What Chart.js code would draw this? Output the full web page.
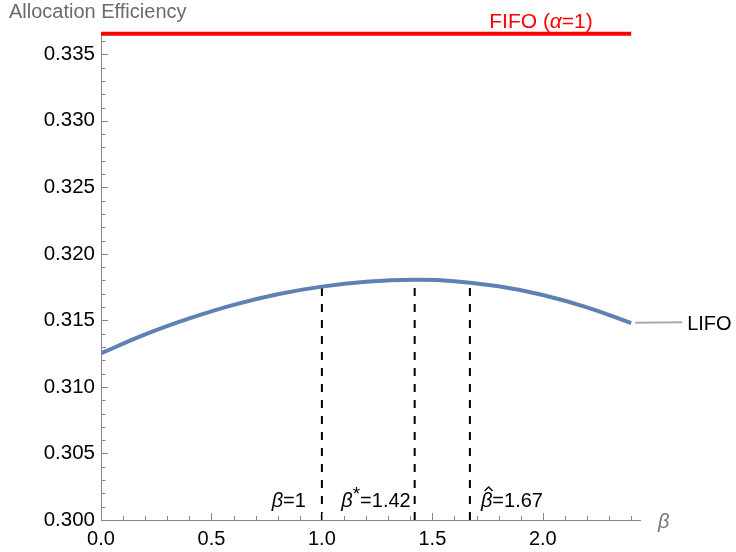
<!DOCTYPE html>
<html>
<head>
<meta charset="utf-8">
<script src="https://cdn.jsdelivr.net/npm/chart.js@4.4.1/dist/chart.umd.min.js"></script>
<style>
  body { margin: 0; background: #fff; }
  canvas { display: block; }
</style>
</head>
<body>
<canvas id="efficiency" width="736" height="552"></canvas>
<script>
// values
const betaVals = [0, 0.2, 0.4, 0.6, 0.8, 1.0, 1.2, 1.42, 1.6, 1.8, 2.0, 2.2, 2.4];
const lifoVals = [0.31253, 0.31395, 0.31515, 0.31617, 0.31697, 0.31754, 0.31790, 0.31805, 0.31795, 0.31756, 0.31691, 0.31598, 0.31479];
const fifoLevel = 0.33655;
const markerBetas = [1, 1.42, 1.67];
const markerTops = [0.31754, 0.31805, 0.31784];
const xTicks = [0, 0.5, 1.0, 1.5, 2.0];
const yTicks = [0.300, 0.305, 0.310, 0.315, 0.320, 0.325, 0.330, 0.335];

const FONT = "'Liberation Sans', Arial, sans-serif";
const ctx = document.getElementById('efficiency').getContext('2d');

// draw text made of normal / italic pieces
function drawRuns(c, runs, x, y, align, color) {
    c.save();
    c.fillStyle = color;
    c.textBaseline = 'alphabetic';
    c.textAlign = 'left';
    let total = 0;
    runs.forEach(r => {
        c.font = (r.it ? 'italic ' : '') + (r.size || 20) + 'px ' + FONT;
        r.w = c.measureText(r.t).width;
        total += r.w;
    });
    let cx = align === 'right' ? x - total : align === 'center' ? x - total / 2 : x;
    runs.forEach(r => {
        c.font = (r.it ? 'italic ' : '') + (r.size || 20) + 'px ' + FONT;
        c.fillText(r.t, cx, y + (r.dy || 0));
        r.x = cx;
        cx += r.w;
    });
    c.restore();
    return runs;
}

const extras = {
    id: 'extras',
    afterDraw(chart) {
        const c = chart.ctx;
        const xs = chart.scales.x, ys = chart.scales.y;
        const area = chart.chartArea;
        c.save();
        c.strokeStyle = '#888';
        c.lineWidth = 1;
        // y ticks inside
        for (let i = 0; i <= 36; i++) {
            const v = 0.300 + i * 0.001;
            const py = Math.round(ys.getPixelForValue(v)) + 0.5;
            const len = i % 5 === 0 ? 7 : 4.5;
            c.beginPath();
            c.moveTo(area.left, py);
            c.lineTo(area.left + len, py);
            c.stroke();
        }
        // x ticks inside
        for (let i = 0; i <= 24; i++) {
            const v = i * 0.1;
            const px = Math.round(xs.getPixelForValue(v)) + 0.5;
            const len = i % 5 === 0 ? 7 : 4;
            c.beginPath();
            c.moveTo(px, area.bottom);
            c.lineTo(px, area.bottom - len);
            c.stroke();
        }
        // leader line to LIFO label
        const endX = xs.getPixelForValue(betaVals[betaVals.length - 1]);
        const endY = ys.getPixelForValue(lifoVals[lifoVals.length - 1]);
        c.strokeStyle = '#aaa';
        c.lineWidth = 2;
        c.beginPath();
        c.moveTo(endX + 4, endY - 0.5);
        c.lineTo(endX + 51, endY - 1);
        c.stroke();
        c.restore();

        // title and labels
        c.save();
        c.font = '20px ' + FONT;
        c.fillStyle = '#6b6b6b';
        c.textBaseline = 'alphabetic';
        c.fillText('Allocation Efficiency', 9, 18);
        c.restore();

        drawRuns(c, [{t: 'FIFO (', size: 21}, {t: '\u03b1', it: true, size: 21}, {t: '=1)', size: 21}], 541, 28, 'center', '#f00');
        drawRuns(c, [{t: 'LIFO'}], endX + 56, endY + 7, 'left', '#000');
        drawRuns(c, [{t: '\u03b2', it: true}], 658, 528, 'left', '#777');

        const base = 507;
        drawRuns(c, [{t: '\u03b2', it: true}, {t: '=1'}], xs.getPixelForValue(markerBetas[0]) - 16, base, 'right', '#000');
        drawRuns(c, [{t: '\u03b2', it: true}, {t: '*', size: 19, dy: -7}, {t: '=1.42'}], xs.getPixelForValue(markerBetas[1]) - 4, base, 'right', '#000');
        const hat = drawRuns(c, [{t: '\u03b2', it: true}, {t: '=1.67'}], xs.getPixelForValue(markerBetas[2]) + 11, base, 'left', '#000');
        // hat over beta
        const hx = hat[0].x + hat[0].w / 2 + 2;
        c.save();
        c.strokeStyle = '#000';
        c.lineWidth = 1.3;
        c.beginPath();
        c.moveTo(hx - 4, base - 16);
        c.lineTo(hx, base - 20);
        c.lineTo(hx + 4, base - 16);
        c.stroke();
        c.restore();
    }
};

const markerSets = markerBetas.map((b, i) => ({
    data: [{x: b, y: 0.300}, {x: b, y: markerTops[i]}],
    showLine: true,
    borderColor: '#000',
    borderWidth: 2,
    borderDash: [8, 8],
    pointRadius: 0,
    order: 2
}));

const chart = new Chart(ctx, {
    type: 'scatter',
    data: {
        datasets: [
            {
                data: betaVals.map((b, i) => ({x: b, y: lifoVals[i]})),
                showLine: true,
                borderColor: '#5e81b5',
                borderWidth: 4,
                tension: 0.4,
                pointRadius: 0,
                order: 1
            },
            {
                data: [{x: 0, y: fifoLevel}, {x: 2.4, y: fifoLevel}],
                showLine: true,
                borderColor: '#f00',
                borderWidth: 4,
                pointRadius: 0,
                clip: false,
                order: 1
            },
            ...markerSets
        ]
    },
    options: {
        responsive: false,
        animation: false,
        layout: { padding: { top: 33, right: 96, left: 0, bottom: 0 } },
        plugins: { legend: { display: false }, tooltip: { enabled: false } },
        scales: {
            x: {
                type: 'linear',
                min: 0,
                max: 2.44,
                grid: { display: false, drawTicks: false },
                border: { display: true, color: '#888', width: 1 },
                ticks: {
                    font: { family: FONT, size: 20 },
                    color: '#000',
                    padding: 7,
                    maxRotation: 0,
                    autoSkip: false,
                    callback: v => v.toFixed(1)
                },
                afterBuildTicks: s => { s.ticks = xTicks.map(v => ({value: v})); },
                afterFit: s => { s.height = 32; }
            },
            y: {
                type: 'linear',
                min: 0.300,
                max: 0.3366,
                grid: { display: false, drawTicks: false },
                border: { display: true, color: '#888', width: 1 },
                ticks: {
                    font: { family: FONT, size: 20.5 },
                    color: '#000',
                    padding: 6,
                    autoSkip: false,
                    callback: v => v.toFixed(3)
                },
                afterBuildTicks: s => { s.ticks = yTicks.map(v => ({value: v})); },
                afterFit: s => { s.width = 101; }
            }
        }
    },
    plugins: [extras]
});
</script>
</body>
</html>
